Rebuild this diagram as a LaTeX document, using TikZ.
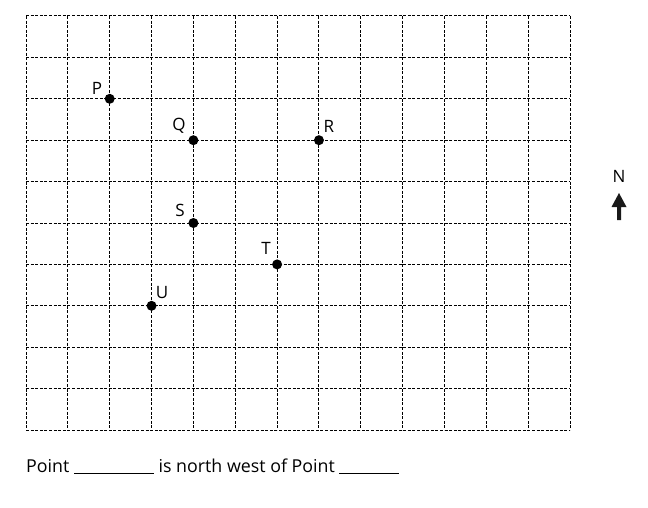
\documentclass[tikz,border=0pt]{standalone}
\usepackage{fontspec}
\setmainfont{Open Sans}
\begin{document}
\begin{tikzpicture}[x=1pt,y=-1pt,
  gridline/.style={line width=1pt,dash pattern=on 3pt off 1.6pt},
  dot/.style={circle,fill=black,inner sep=0pt,minimum size=10pt},
  lbl/.style={font=\fontsize{17}{20}\selectfont,inner sep=0pt}]
\useasboundingbox (0,0) rectangle (648,508);
% grid
\foreach \i in {0,...,13} {
  \draw[gridline] ({26+\i*41.85},16) -- ({26+\i*41.85},430);
}
\foreach \j in {0,...,10} {
  \draw[gridline] (26,{16+\j*41.4}) -- (570,{16+\j*41.4});
}
% points
\node[dot] (P) at (109.7,98.8) {};
\node[dot] (Q) at (193.4,140.2) {};
\node[dot] (R) at (318.95,140.2) {};
\node[dot] (S) at (193.4,223) {};
\node[dot] (T) at (277.1,264.4) {};
\node[dot] (U) at (151.55,305.8) {};
\node[lbl] (Pl) at (97,88) {P};
\node[lbl] (Ql) at (179,126) {Q};
\node[lbl] (Rl) at (329,126) {R};
\node[lbl] (Sl) at (180,210) {S};
\node[lbl] (Tl) at (266,248) {T};
\node[lbl] (Ul) at (162,293) {U};
% north arrow
\node[lbl] (N) at (619,176) {N};
\fill[black!90] (619,193) -- (626.5,207) -- (621,207) -- (621,220) -- (617,220) -- (617,207) -- (611.5,207) -- cycle;
% question
\node[anchor=base west,inner sep=0pt,font=\fontsize{17.8}{21}\selectfont] (q) at (26,472)
  {Point \rule[-1.8pt]{80pt}{0.9pt} is north west of Point \rule[-1.8pt]{60pt}{0.9pt}};
\end{tikzpicture}
\end{document}
